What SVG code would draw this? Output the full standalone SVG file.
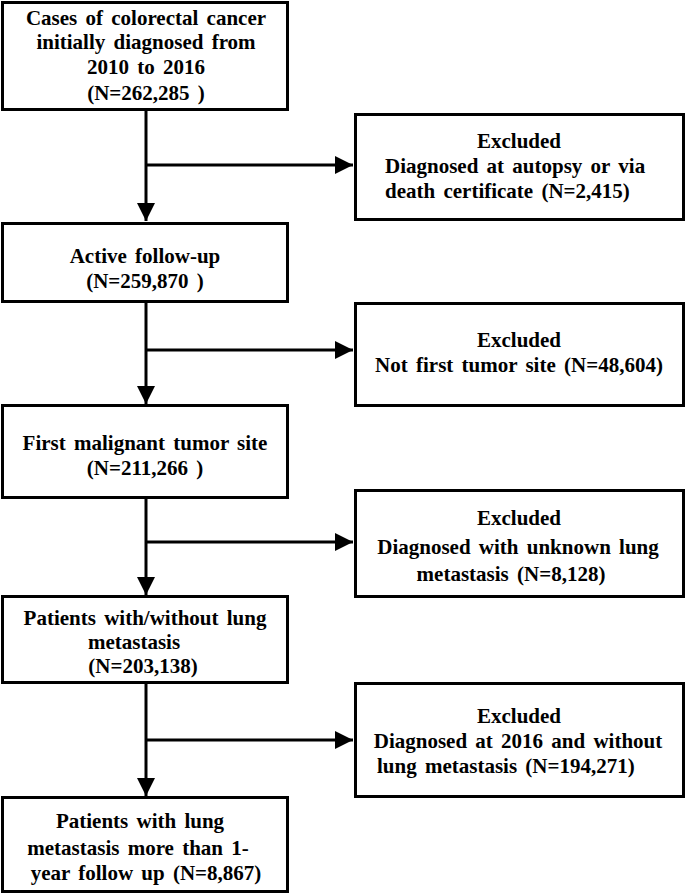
<svg xmlns="http://www.w3.org/2000/svg" width="685" height="895" viewBox="0 0 685 895">
<style>
.box{fill:#fff;stroke:#000;stroke-width:3}
.t{font-family:"Liberation Serif","Times New Roman",serif;font-weight:bold;font-size:21px;fill:#000;word-spacing:3px}
.c{text-anchor:middle}
.ln{stroke:#000;stroke-width:3;fill:none}
</style>
<defs>
<marker id="ah" markerWidth="6" markerHeight="6" refX="6" refY="3" orient="auto" markerUnits="strokeWidth">
<path d="M0,0 L6,3 L0,6 Z" fill="#000"/>
</marker>
</defs>
<rect width="685" height="895" fill="#fff"/>
<g id="connectors">
<line class="ln" x1="146" y1="110" x2="146" y2="221" marker-end="url(#ah)"/>
<line class="ln" x1="146" y1="165" x2="353" y2="165" marker-end="url(#ah)"/>
<line class="ln" x1="146" y1="302" x2="146" y2="404" marker-end="url(#ah)"/>
<line class="ln" x1="146" y1="350" x2="353" y2="350" marker-end="url(#ah)"/>
<line class="ln" x1="146" y1="498" x2="146" y2="595" marker-end="url(#ah)"/>
<line class="ln" x1="146" y1="542" x2="353" y2="542" marker-end="url(#ah)"/>
<line class="ln" x1="146" y1="683" x2="146" y2="796" marker-end="url(#ah)"/>
<line class="ln" x1="146" y1="740" x2="353" y2="740" marker-end="url(#ah)"/>
</g>
<g id="n1">
<rect class="box" x="2.5" y="2.5" width="285" height="107"/>
<text class="t c" x="146" y="25">Cases of colorectal cancer</text>
<text class="t c" x="146" y="49">initially diagnosed from</text>
<text class="t c" x="146" y="74">2010 to 2016</text>
<text class="t c" x="146" y="100">(N=262,285 )</text>
</g>
<g id="x1">
<rect class="box" x="355.5" y="114.5" width="328" height="105"/>
<text class="t c" x="519" y="148">Excluded</text>
<text class="t" x="385" y="173">Diagnosed at autopsy or via</text>
<text class="t" x="385" y="198">death certificate (N=2,415)</text>
</g>
<g id="n2">
<rect class="box" x="2.5" y="223.5" width="285" height="78"/>
<text class="t c" x="145" y="263">Active follow-up</text>
<text class="t c" x="145" y="288">(N=259,870 )</text>
</g>
<g id="x2">
<rect class="box" x="355.5" y="303.5" width="328" height="102"/>
<text class="t c" x="519" y="347">Excluded</text>
<text class="t c" x="519" y="372">Not first tumor site (N=48,604)</text>
</g>
<g id="n3">
<rect class="box" x="2.5" y="405.5" width="285" height="92"/>
<text class="t c" x="145" y="450">First malignant tumor site</text>
<text class="t c" x="145" y="475">(N=211,266 )</text>
</g>
<g id="x3">
<rect class="box" x="355.5" y="490.5" width="328" height="106"/>
<text class="t c" x="519" y="525">Excluded</text>
<text class="t c" x="518" y="554">Diagnosed with unknown lung</text>
<text class="t c" x="511" y="581">metastasis (N=8,128)</text>
</g>
<g id="n4">
<rect class="box" x="2.5" y="596.5" width="285" height="86"/>
<text class="t c" x="145" y="625">Patients with/without lung</text>
<text class="t c" x="134" y="649">metastasis</text>
<text class="t c" x="143" y="673">(N=203,138)</text>
</g>
<g id="x4">
<rect class="box" x="355.5" y="683.5" width="328" height="113"/>
<text class="t c" x="519" y="723">Excluded</text>
<text class="t c" x="518" y="748">Diagnosed at 2016 and without</text>
<text class="t" x="377" y="773">lung  metastasis (N=194,271)</text>
</g>
<g id="n5">
<rect class="box" x="2.5" y="797.5" width="285" height="94"/>
<text class="t c" x="140" y="828">Patients with lung</text>
<text class="t c" x="138" y="855">metastasis more than 1-</text>
<text class="t c" x="146" y="880">year follow up (N=8,867)</text>
</g>
</svg>
